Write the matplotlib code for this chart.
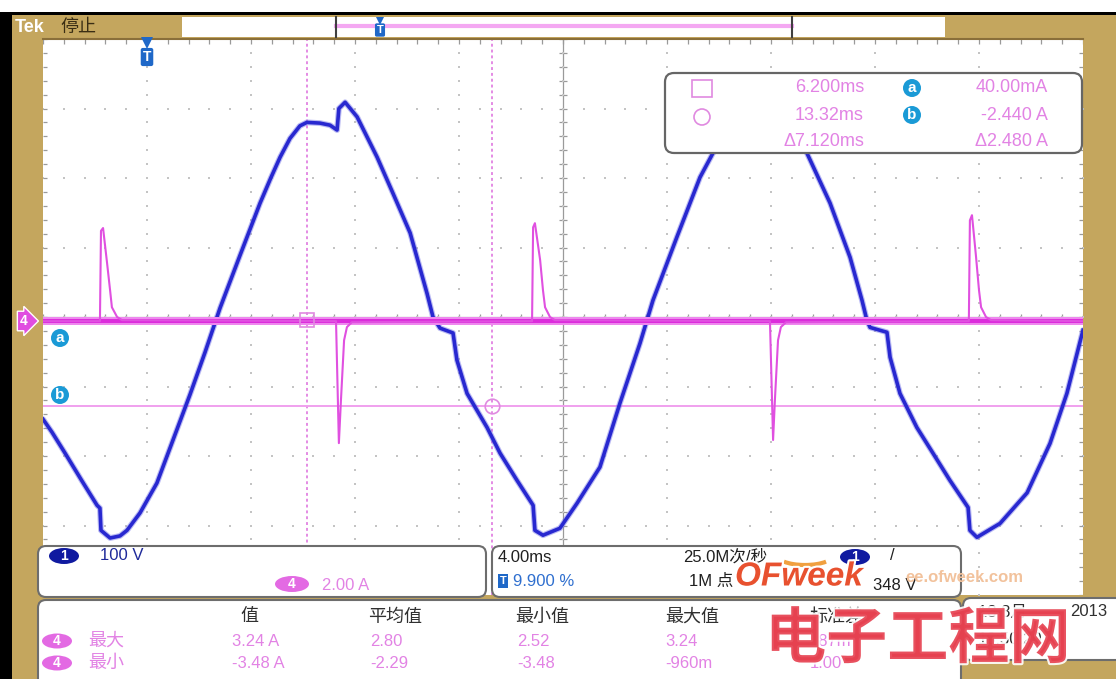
import numpy as np
import matplotlib.pyplot as plt
from matplotlib.patches import Rectangle, FancyBboxPatch, Ellipse, Circle, Arc
import matplotlib.patheffects as pe

plt.rcParams['font.family'] = ['Liberation Sans', 'Noto Sans CJK SC', 'DejaVu Sans']

# ---- values ----
# channel 1 (line voltage), time in ms, volts
ch1_t = [-3.96, -3.61, -3.11, -2.46, -1.88, -1.77, -1.73, -1.38, -1.00, -0.73,
         -0.23, 0.42, 1.04, 1.69, 2.27, 2.85, 3.62, 4.39, 4.80, 5.16, 5.54,
         5.92, 6.19, 6.69, 7.08, 7.35, 7.42, 7.66, 8.12, 8.89, 9.50,
         10.16, 10.81, 11.04, 11.31, 11.81, 11.96, 12.35, 13.12, 13.62, 14.27,
         14.89, 14.96, 15.27, 15.92, 16.58, 17.46, 18.23, 19.00, 19.50, 20.42,
         21.31, 21.81, 22.65, 23.0, 24.0, 24.1, 24.4, 24.85, 25.42, 26.31,
         27.08, 27.54, 27.73, 27.85, 28.50, 28.62, 29.00, 29.65, 30.27, 30.92,
         31.62, 31.69, 31.96, 32.85, 33.89, 34.77, 35.42, 36.04]
ch1_v = [-141, -160, -190, -230, -265, -269, -301, -312, -309, -301,
         -276, -233, -171, -106, -45, 19, 95, 170, 206, 236, 263,
         281, 286, 285, 282, 275, 306, 315, 294, 236, 184,
         127, 40, 6, -10, -17, -56, -104, -153, -190, -229,
         -265, -301, -308, -298, -262, -210, -118, -32, 30, 121,
         207, 242, 283, 286, 282, 306, 315, 294, 242, 170,
         92, 30, 1, -9, -16, -52, -104, -153, -190, -229,
         -268, -301, -311, -291, -247, -176, -104, -13]

# channel 4 (current), time in ms, amps
ch4_t = [-3.96, -1.77, -1.73, -1.65, -1.50, -1.38, -1.31, -1.11, -0.92,
         7.31, 7.42, 7.50, 7.62, 7.73, 7.92,
         14.85, 14.89, 14.96, 15.16, 15.27, 15.35, 15.54, 15.73,
         24.00, 24.12, 24.19, 24.31, 24.42, 24.62,
         31.65, 31.69, 31.77, 31.92, 32.04, 32.12, 32.31, 32.50, 36.04]
ch4_i = [0.0, 0.0, 2.60, 2.68, 1.70, 0.89, 0.40, 0.12, 0.03,
         0.0, -3.51, -2.27, -0.55, -0.17, -0.03,
         0.0, 2.70, 2.82, 1.76, 0.89, 0.40, 0.12, 0.03,
         0.0, -3.42, -2.27, -0.55, -0.17, -0.03,
         0.0, 2.90, 3.05, 1.90, 0.89, 0.40, 0.12, 0.03, 0.0]
ch4_noise = 0.12  # half width of the baseline noise band, A

ch1_scale = 100.0  # V/div
ch4_scale = 2.0    # A/div
ch_offset = -0.06  # div
time_div = 4.0     # ms/div
trig_pos = 9.9     # %

cursor_t = [6.200, 13.32]
cursor_i = [0.040, -2.440]
readout_time = ['6.200ms', '13.32ms', '\u03947.120ms']
readout_amp = ['40.00mA', '-2.440 A', '\u03942.480 A']

meas_cols = ['值', '平均值', '最小值', '最大值', '标准差']
meas_max = ['3.24 A', '2.80', '2.52', '3.24', '187m']
meas_min = ['-3.48 A', '-2.29', '-3.48', '-960m', '1.00']

GOLD = '#c4a65e'
PINK = '#e283e4'
BLUE = '#2828d0'
W, H = 1116, 679

fig = plt.figure(figsize=(W / 100, H / 100), dpi=100)
fig.patch.set_facecolor(GOLD)


def box(x0, y0, x1, y1):
    return [x0 / W, 1 - y1 / H, (x1 - x0) / W, (y1 - y0) / H]


# ---- graticule ----
t0 = -time_div * 10 * trig_pos / 100
t1 = t0 + 10 * time_div
ax = fig.add_axes(box(43, 39, 1083, 595))
ax.set_xlim(t0, t1)
ax.set_ylim(-4, 4)
ax.set_facecolor('white')
for s in ax.spines.values():
    s.set_visible(False)
ax.set_xticks([])
ax.set_yticks([])

GRID = '#c4c4c4'
minor_x = t0 + time_div / 5 * np.arange(51)
minor_y = np.arange(-20, 21) / 5
for yv in range(-3, 4):
    ax.plot(minor_x, np.full_like(minor_x, yv), ls='none', marker='s', ms=1.7, mew=0, color=GRID)
for k in range(1, 10):
    xv = t0 + k * time_div
    ax.plot(np.full_like(minor_y, xv), minor_y, ls='none', marker='s', ms=1.7, mew=0, color=GRID)
xc = t0 + 5 * time_div
ax.axvline(xc, color='#9a9a9a', lw=0.9, zorder=1)
ax.axhline(0, color='#9a9a9a', lw=0.9, zorder=1)
ax.hlines(minor_y, xc - 0.14, xc + 0.14, color='#9a9a9a', lw=0.9, zorder=1)
ax.vlines(minor_x, -0.05, 0.05, color='#9a9a9a', lw=0.9, zorder=1)
ax.hlines(minor_y, t0, t0 + 0.14, color='#9a9a9a', lw=0.9)
ax.hlines(minor_y, t1 - 0.14, t1, color='#9a9a9a', lw=0.9)
ax.vlines(minor_x, 3.93, 4, color='#9a9a9a', lw=0.9)

# cursors
ya = cursor_i[0] / ch4_scale + ch_offset
yb = cursor_i[1] / ch4_scale + ch_offset
for tc in cursor_t:
    ax.axvline(tc, color='#e48be4', lw=1.4, ls=(0, (1.5, 1.5)), zorder=2)
ax.axhline(ya, color='#f2a6f0', lw=1.3, zorder=2)
ax.axhline(yb, color='#f0a0ee', lw=1.4, zorder=2)

# channel 1
y1 = np.array(ch1_v) / ch1_scale + ch_offset
ax.plot(ch1_t, y1, color='#6a6ae6', lw=4.2, alpha=0.45, solid_joinstyle='round',
        solid_capstyle='round', zorder=3)
ax.plot(ch1_t, y1, color=BLUE, lw=2.6, solid_joinstyle='round', zorder=4)

# channel 4
y4 = np.array(ch4_i) / ch4_scale + ch_offset
nb = ch4_noise / ch4_scale
ax.fill_between([t0, t1], ch_offset - nb, ch_offset + nb, color='#ee88ee', lw=0, zorder=5)
ax.fill_between([t0, t1], ch_offset - nb * 0.55, ch_offset + nb * 0.55, color='#dc2cdc', lw=0, zorder=5)
ax.plot(ch4_t, y4, color='#e050e0', lw=1.5, zorder=6)

ax.plot(cursor_t[0], ya, marker='s', ms=10.5, mfc='none', mec='#e08ae0', mew=1.2, zorder=7)
ax.plot(cursor_t[1], yb, marker='o', ms=10.5, mfc='none', mec='#e08ae0', mew=1.2, zorder=7)

# ---- screen furniture (pixel coordinates) ----
ov = fig.add_axes([0, 0, 1, 1], zorder=10)
ov.set_xlim(0, W)
ov.set_ylim(H, 0)
ov.axis('off')
ov.patch.set_alpha(0)

ov.add_patch(Rectangle((0, 0), W, 12, fc='white', ec='none'))
ov.add_patch(Rectangle((0, 12), W, 3, fc='black', ec='none'))
ov.add_patch(Rectangle((0, 12), 12, H, fc='black', ec='none'))
ov.plot([43, 1083], [39, 39], color='#8a6f3a', lw=1.5)

# top record bar
ov.add_patch(Rectangle((182, 17), 763, 20, fc='white', ec='none'))
ov.plot([336, 792], [26, 26], color='#f4a8f2', lw=3)
ov.plot([336, 336], [17, 37], color='#404040', lw=1.5)
ov.plot([792, 792], [17, 37], color='#404040', lw=1.5)
ov.text(15, 27, 'Tek', color='white', fontsize=13, fontweight='bold', va='center')
ov.text(60, 27, '停止', color='#3a2e14', fontsize=13, va='center')


def tmark(x, y, fs):
    ov.text(x, y, 'T', color='white', fontsize=fs, fontweight='bold', ha='center', va='center',
            bbox=dict(boxstyle='round,pad=0.15', fc='#1f68c8', ec='none'))


ov.plot(147, 43, marker='v', ms=8, color='#1f68c8', mew=0)
tmark(147, 57, 10)
ov.plot(380, 21, marker='v', ms=6, color='#1f68c8', mew=0)
tmark(380, 30, 8)

# channel / cursor tags at left
ov.text(24, 321, '4', color='white', fontsize=10, fontweight='bold', ha='center', va='center',
        bbox=dict(boxstyle='rarrow,pad=0.2', fc='#e04ee0', ec='white', lw=1))
for lab, yy in [('a', 338), ('b', 395)]:
    ov.add_patch(Circle((60, yy), 9, fc='#1a9ad6', ec='none'))
    ov.text(60, yy, lab, color='white', fontsize=11, fontweight='bold', ha='center', va='center')

# cursor readout
ov.add_patch(FancyBboxPatch((665, 73), 417, 80, boxstyle='round,pad=0,rounding_size=9',
                            fc='white', ec='#666666', lw=1.6))
ov.add_patch(Rectangle((692, 80), 20, 17, fc='none', ec='#e08ae0', lw=1.2))
ov.add_patch(Circle((702, 117), 8, fc='none', ec='#e08ae0', lw=1.2))
for txt, yy in zip(readout_time, [88, 115, 141]):
    ov.text(864, yy, txt, color=PINK, fontsize=13, ha='right', va='center')
for lab, yy in [('a', 88), ('b', 115)]:
    ov.add_patch(Circle((912, yy), 9, fc='#1a9ad6', ec='none'))
    ov.text(912, yy, lab, color='white', fontsize=11, fontweight='bold', ha='center', va='center')
for txt, yy in zip(readout_amp, [88, 115, 141]):
    ov.text(1048, yy, txt, color=PINK, fontsize=13, ha='right', va='center')

# bottom panels
pstyle = dict(boxstyle='round,pad=0,rounding_size=8', fc='white', ec='#6d6d6d', lw=1.5)
ov.add_patch(FancyBboxPatch((38, 546), 448, 51, **pstyle))
ov.add_patch(FancyBboxPatch((492, 546), 469, 51, **pstyle))
ov.add_patch(FancyBboxPatch((38, 600), 923, 95, **pstyle))
ov.add_patch(FancyBboxPatch((963, 598), 170, 62, **pstyle))


def badge(x, y, txt, fc, w=30, h=16):
    ov.add_patch(Ellipse((x, y), w, h, fc=fc, ec='none'))
    ov.text(x, y, txt, color='white', fontsize=10, fontweight='bold', ha='center', va='center')


badge(64, 556, '1', '#101aa0')
ov.text(100, 556, '100 V', color='#1f2a9a', fontsize=12, va='center')
badge(292, 584, '4', '#e36ae3', w=34)
ov.text(322, 585, '2.00 A', color=PINK, fontsize=12, va='center')

ov.text(498, 557, '4.00ms', color='#202020', fontsize=12, va='center')
ov.text(503, 581, 'T', color='white', fontsize=8, fontweight='bold', ha='center', va='center',
        bbox=dict(boxstyle='square,pad=0.15', fc='#1f68c8', ec='none'))
ov.text(513, 581, '9.900 %', color='#2f6fcf', fontsize=12, va='center')
ov.text(683, 557, '25.0M次/秒', color='#202020', fontsize=12, va='center')
ov.text(689, 581, '1M 点', color='#202020', fontsize=12, va='center')
badge(855, 557, '1', '#101aa0')
ov.text(890, 556, '/', color='#202020', fontsize=12, va='center')
ov.text(873, 585, '348 V', color='#202020', fontsize=12, va='center')

col_x = [240, 368, 515, 665, 810]
val_x = [232, 370, 517, 665, 810]
for cx, txt in zip(col_x, meas_cols):
    ov.text(cx, 617, txt, color='#303030', fontsize=13, va='center')
for row_y, lab, vals in [(641, '最大', meas_max), (663, '最小', meas_min)]:
    badge(57, row_y, '4', '#e36ae3', w=30, h=15)
    ov.text(88, row_y, lab, color=PINK, fontsize=13, va='center')
    for vx, v in zip(val_x, vals):
        ov.text(vx, row_y, v, color=PINK, fontsize=12, va='center')

ov.text(978, 612, '13 8月', color='#303030', fontsize=12, va='center')
ov.text(1070, 612, '2013', color='#303030', fontsize=12, va='center')
ov.text(978, 640, '16:50:20', color='#303030', fontsize=12, va='center')

# watermark
white_edge = [pe.withStroke(linewidth=3, foreground='white')]
ov.add_patch(Arc((805, 556), 54, 18, theta1=15, theta2=165, color='#f0a040', lw=3))
ov.text(735, 577, 'OFweek', fontsize=24, fontweight='bold', style='italic', color='#e8512f',
        va='center', path_effects=white_edge)
ov.text(905, 578, 'ee.ofweek.com', fontsize=12, fontweight='bold', color='#f2c29c', va='center')
ov.text(765, 640, '电子工程网', fontsize=44, fontweight='bold', color='#e6404f', alpha=0.9,
        va='center', family=['Noto Sans CJK SC'], path_effects=white_edge)

fig.savefig('out.png', dpi=100, facecolor=fig.get_facecolor())
